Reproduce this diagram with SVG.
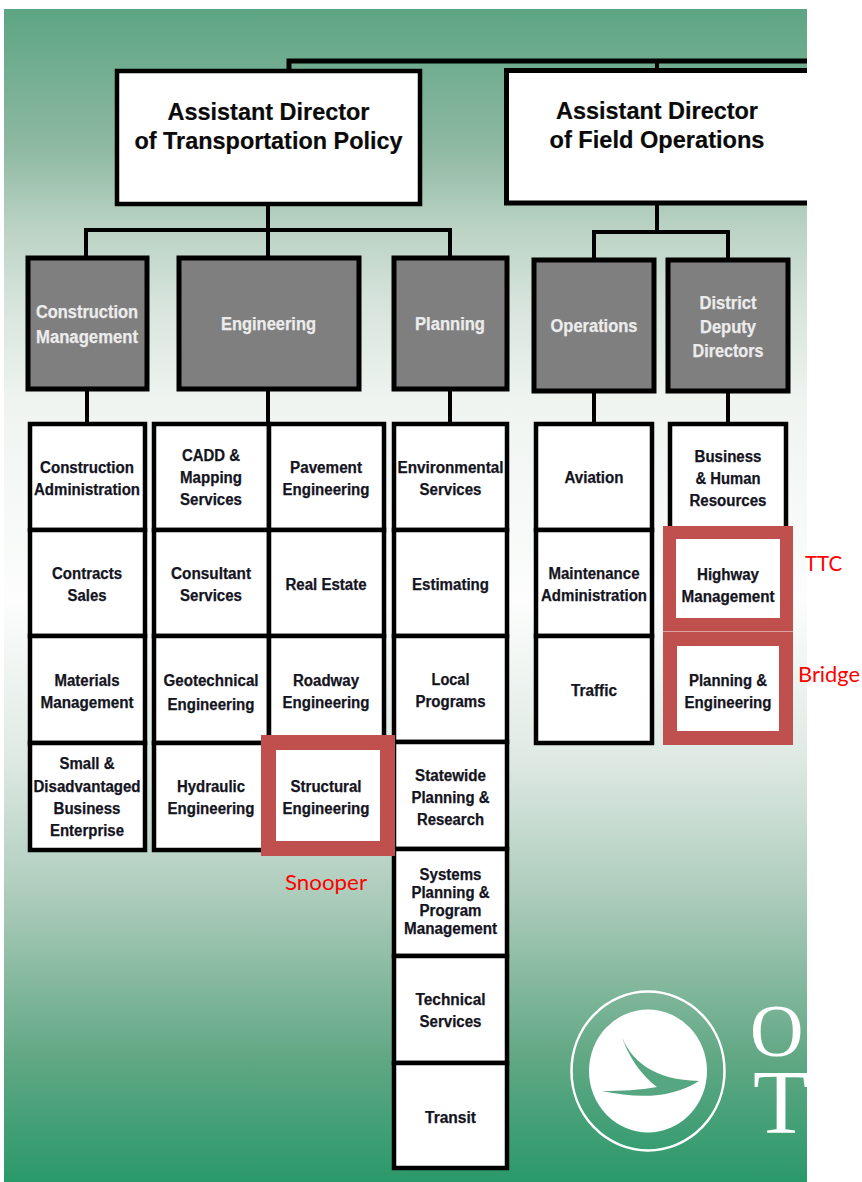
<svg xmlns="http://www.w3.org/2000/svg" width="862" height="1182" viewBox="0 0 862 1182">
<style>
.l{fill:none;stroke:#000;stroke-width:4}
.w{fill:#fff;stroke:#000;stroke-width:4.500}
.g{fill:#7f7f7f;stroke:#000;stroke-width:5}
.r{fill:#fff;stroke:#c0504d;stroke-width:15}
text{font-family:"Liberation Sans",Arial,sans-serif;font-weight:700;text-anchor:middle}
.h{font-size:24px;fill:#0a0a0a;stroke:#0a0a0a;stroke-width:.2}
.t{font-size:16px;fill:#14141e;stroke:#14141e;stroke-width:.25}
.d{font-size:18px;fill:#ececec;stroke:#ececec;stroke-width:.25}
.a{font-family:Lato,"Open Sans",sans-serif;font-weight:400;font-size:22px;fill:#ff0000}
.s{font-family:"Liberation Serif",serif;font-weight:400;fill:#fff;text-anchor:start}
</style>
<defs>
<linearGradient id="bg" x1="0" y1="0" x2="0" y2="1">
<stop offset="0" stop-color="#5ca583"/>
<stop offset="0.12" stop-color="#8fb9a3"/>
<stop offset="0.188" stop-color="#bbd3c5"/>
<stop offset="0.248" stop-color="#d5e3db"/>
<stop offset="0.333" stop-color="#eff4f1"/>
<stop offset="0.504" stop-color="#fcfdfc"/>
<stop offset="0.635" stop-color="#e0eae5"/>
<stop offset="0.763" stop-color="#a9cab9"/>
<stop offset="0.892" stop-color="#62a885"/>
<stop offset="1" stop-color="#2a996a"/>
</linearGradient>
<clipPath id="c"><rect x="0" y="0" width="807" height="1182"/></clipPath>
</defs>
<rect x="4" y="9" width="803" height="1173" fill="url(#bg)"/>
<g id="logo">
<ellipse cx="648" cy="1071" rx="76.500" ry="79.500" fill="none" stroke="#fff" stroke-width="2.500"/>
<ellipse cx="648" cy="1071" rx="59" ry="61.500" fill="#fff"/>
<path d="M620 1032C630 1062 655 1080 699 1081C672 1098 640 1099 602 1091C622 1091 640 1090 657 1087C640 1074 628 1056 620 1032Z" fill="#56a681"/>
<g clip-path="url(#c)">
<text class="s" x="750" y="1056" font-size="74">O</text>
<text class="s" x="753" y="1133" font-size="92">T</text>
</g>
</g>
<g id="connectors">
<path d="M289 70V61H807" fill="none" stroke="#000" stroke-width="5"/>
<path class="l" d="M657 61V70M268 205V230M86 256V230H450V256M268 230V256M657 205V232M594 258V232H728V258M87 391V422M268 391V422M450 391V422M594 393V422M728 393V423"/>
</g>
<g id="ad-policy"><rect class="w" x="117" y="71" width="303" height="133"/><text class="h" x="268.500" y="120" textLength="202" lengthAdjust="spacingAndGlyphs">Assistant Director</text><text class="h" x="268.500" y="149" textLength="268" lengthAdjust="spacingAndGlyphs">of Transportation Policy</text></g>
<g id="ad-field"><path d="M506 71H807V203H506Z" fill="#fff"/><path d="M807 70.500H506.500V203H807" fill="none" stroke="#000" stroke-width="5"/><text class="h" x="657" y="119" textLength="202" lengthAdjust="spacingAndGlyphs">Assistant Director</text><text class="h" x="657" y="148" textLength="215" lengthAdjust="spacingAndGlyphs">of Field Operations</text></g>
<g id="construction-management"><rect class="g" x="28" y="258" width="119" height="131"/><text class="d" x="87" y="318" textLength="102" lengthAdjust="spacingAndGlyphs">Construction</text><text class="d" x="87" y="343" textLength="102" lengthAdjust="spacingAndGlyphs">Management</text></g>
<g id="engineering"><rect class="g" x="179" y="258" width="180" height="131"/><text class="d" x="268.500" y="330" textLength="95" lengthAdjust="spacingAndGlyphs">Engineering</text></g>
<g id="planning"><rect class="g" x="394" y="258" width="113" height="131"/><text class="d" x="450" y="330" textLength="70" lengthAdjust="spacingAndGlyphs">Planning</text></g>
<g id="operations"><rect class="g" x="534" y="260" width="120" height="131"/><text class="d" x="594" y="332" textLength="87" lengthAdjust="spacingAndGlyphs">Operations</text></g>
<g id="district-deputy-directors"><rect class="g" x="668" y="260" width="120" height="131"/><text class="d" x="728" y="309" textLength="57" lengthAdjust="spacingAndGlyphs">District</text><text class="d" x="728" y="333" textLength="56" lengthAdjust="spacingAndGlyphs">Deputy</text><text class="d" x="728" y="357" textLength="71" lengthAdjust="spacingAndGlyphs">Directors</text></g>

<g id="construction-administration"><rect class="w" x="30" y="424" width="115" height="106"/><text class="t" x="87" y="473" textLength="94" lengthAdjust="spacingAndGlyphs">Construction</text><text class="t" x="87" y="495" textLength="106" lengthAdjust="spacingAndGlyphs">Administration</text></g>
<g id="contracts-sales"><rect class="w" x="30" y="530" width="115" height="106"/><text class="t" x="87" y="579" textLength="70" lengthAdjust="spacingAndGlyphs">Contracts</text><text class="t" x="87" y="601" textLength="39" lengthAdjust="spacingAndGlyphs">Sales</text></g>
<g id="materials-management"><rect class="w" x="30" y="636" width="115" height="107"/><text class="t" x="87" y="686" textLength="65" lengthAdjust="spacingAndGlyphs">Materials</text><text class="t" x="87" y="708" textLength="93" lengthAdjust="spacingAndGlyphs">Management</text></g>
<g id="small-business"><rect class="w" x="30" y="743" width="115" height="107"/><text class="t" x="87" y="769" textLength="55" lengthAdjust="spacingAndGlyphs">Small &amp;</text><text class="t" x="87" y="792" textLength="107" lengthAdjust="spacingAndGlyphs">Disadvantaged</text><text class="t" x="87" y="814" textLength="67" lengthAdjust="spacingAndGlyphs">Business</text><text class="t" x="87" y="836" textLength="74" lengthAdjust="spacingAndGlyphs">Enterprise</text></g>

<g id="cadd"><rect class="w" x="154" y="424" width="115" height="106"/><text class="t" x="211" y="461" textLength="58" lengthAdjust="spacingAndGlyphs">CADD &amp;</text><text class="t" x="211" y="483" textLength="62" lengthAdjust="spacingAndGlyphs">Mapping</text><text class="t" x="211" y="505" textLength="62" lengthAdjust="spacingAndGlyphs">Services</text></g>
<g id="consultant"><rect class="w" x="154" y="530" width="115" height="106"/><text class="t" x="211" y="579" textLength="80" lengthAdjust="spacingAndGlyphs">Consultant</text><text class="t" x="211" y="601" textLength="62" lengthAdjust="spacingAndGlyphs">Services</text></g>
<g id="geotechnical"><rect class="w" x="154" y="636" width="115" height="107"/><text class="t" x="211" y="686" textLength="95" lengthAdjust="spacingAndGlyphs">Geotechnical</text><text class="t" x="211" y="710" textLength="87" lengthAdjust="spacingAndGlyphs">Engineering</text></g>
<g id="hydraulic"><rect class="w" x="154" y="743" width="115" height="107"/><text class="t" x="211" y="792" textLength="68" lengthAdjust="spacingAndGlyphs">Hydraulic</text><text class="t" x="211" y="814" textLength="87" lengthAdjust="spacingAndGlyphs">Engineering</text></g>
<g id="pavement"><rect class="w" x="269" y="424" width="115" height="106"/><text class="t" x="326" y="473" textLength="72" lengthAdjust="spacingAndGlyphs">Pavement</text><text class="t" x="326" y="495" textLength="87" lengthAdjust="spacingAndGlyphs">Engineering</text></g>
<g id="real-estate"><rect class="w" x="269" y="530" width="115" height="106"/><text class="t" x="326" y="590" textLength="81" lengthAdjust="spacingAndGlyphs">Real Estate</text></g>
<g id="roadway"><rect class="w" x="269" y="636" width="115" height="107"/><text class="t" x="326" y="686" textLength="66" lengthAdjust="spacingAndGlyphs">Roadway</text><text class="t" x="326" y="708" textLength="87" lengthAdjust="spacingAndGlyphs">Engineering</text></g>

<g id="environmental"><rect class="w" x="394" y="424" width="113" height="106"/><text class="t" x="450.500" y="473" textLength="106" lengthAdjust="spacingAndGlyphs">Environmental</text><text class="t" x="450.500" y="495" textLength="62" lengthAdjust="spacingAndGlyphs">Services</text></g>
<g id="estimating"><rect class="w" x="394" y="530" width="113" height="106"/><text class="t" x="450.500" y="590" textLength="77" lengthAdjust="spacingAndGlyphs">Estimating</text></g>
<g id="local-programs"><rect class="w" x="394" y="636" width="113" height="106"/><text class="t" x="450.500" y="685" textLength="38" lengthAdjust="spacingAndGlyphs">Local</text><text class="t" x="450.500" y="707" textLength="70" lengthAdjust="spacingAndGlyphs">Programs</text></g>
<g id="statewide"><rect class="w" x="394" y="742" width="113" height="107"/><text class="t" x="450.500" y="781" textLength="71" lengthAdjust="spacingAndGlyphs">Statewide</text><text class="t" x="450.500" y="803" textLength="78" lengthAdjust="spacingAndGlyphs">Planning &amp;</text><text class="t" x="450.500" y="825" textLength="67" lengthAdjust="spacingAndGlyphs">Research</text></g>
<g id="systems"><rect class="w" x="394" y="849" width="113" height="107"/><text class="t" x="450.500" y="880" textLength="62" lengthAdjust="spacingAndGlyphs">Systems</text><text class="t" x="450.500" y="898" textLength="78" lengthAdjust="spacingAndGlyphs">Planning &amp;</text><text class="t" x="450.500" y="916" textLength="62" lengthAdjust="spacingAndGlyphs">Program</text><text class="t" x="450.500" y="934" textLength="93" lengthAdjust="spacingAndGlyphs">Management</text></g>
<g id="technical"><rect class="w" x="394" y="956" width="113" height="107"/><text class="t" x="450.500" y="1005" textLength="70" lengthAdjust="spacingAndGlyphs">Technical</text><text class="t" x="450.500" y="1027" textLength="62" lengthAdjust="spacingAndGlyphs">Services</text></g>
<g id="transit"><rect class="w" x="394" y="1063" width="113" height="105"/><text class="t" x="450.500" y="1123" textLength="51" lengthAdjust="spacingAndGlyphs">Transit</text></g>

<g id="aviation"><rect class="w" x="536" y="424" width="116" height="106"/><text class="t" x="594" y="483" textLength="59" lengthAdjust="spacingAndGlyphs">Aviation</text></g>
<g id="maintenance"><rect class="w" x="536" y="530" width="116" height="106"/><text class="t" x="594" y="579" textLength="91" lengthAdjust="spacingAndGlyphs">Maintenance</text><text class="t" x="594" y="601" textLength="106" lengthAdjust="spacingAndGlyphs">Administration</text></g>
<g id="traffic"><rect class="w" x="536" y="636" width="116" height="107"/><text class="t" x="594" y="696" textLength="46" lengthAdjust="spacingAndGlyphs">Traffic</text></g>
<g id="business-hr"><rect class="w" x="670" y="424" width="116" height="106"/><text class="t" x="728" y="462" textLength="67" lengthAdjust="spacingAndGlyphs">Business</text><text class="t" x="728" y="484" textLength="65" lengthAdjust="spacingAndGlyphs">&amp; Human</text><text class="t" x="728" y="506" textLength="77" lengthAdjust="spacingAndGlyphs">Resources</text></g>

<g id="structural"><rect class="r" x="268.500" y="742.500" width="119" height="106"/><text class="t" x="326" y="792" textLength="71" lengthAdjust="spacingAndGlyphs">Structural</text><text class="t" x="326" y="814" textLength="87" lengthAdjust="spacingAndGlyphs">Engineering</text><text class="a" x="326" y="890" textLength="82" lengthAdjust="spacingAndGlyphs">Snooper</text></g>
<g id="highway"><rect x="663" y="526" width="130" height="105" fill="#c0504d"/><rect x="676" y="539" width="104" height="79" fill="#fff"/><text class="t" x="728" y="580" textLength="62" lengthAdjust="spacingAndGlyphs">Highway</text><text class="t" x="728" y="602" textLength="93" lengthAdjust="spacingAndGlyphs">Management</text><text class="a" x="823.500" y="571" textLength="37" lengthAdjust="spacingAndGlyphs">TTC</text></g>
<g id="planning-engineering"><rect x="663" y="631.500" width="130" height="113.500" fill="#c0504d"/><rect x="677" y="646" width="102" height="85" fill="#fff"/><text class="t" x="728" y="686" textLength="78" lengthAdjust="spacingAndGlyphs">Planning &amp;</text><text class="t" x="728" y="708" textLength="87" lengthAdjust="spacingAndGlyphs">Engineering</text><text class="a" x="829" y="682" textLength="62" lengthAdjust="spacingAndGlyphs">Bridge</text></g>
</svg>
